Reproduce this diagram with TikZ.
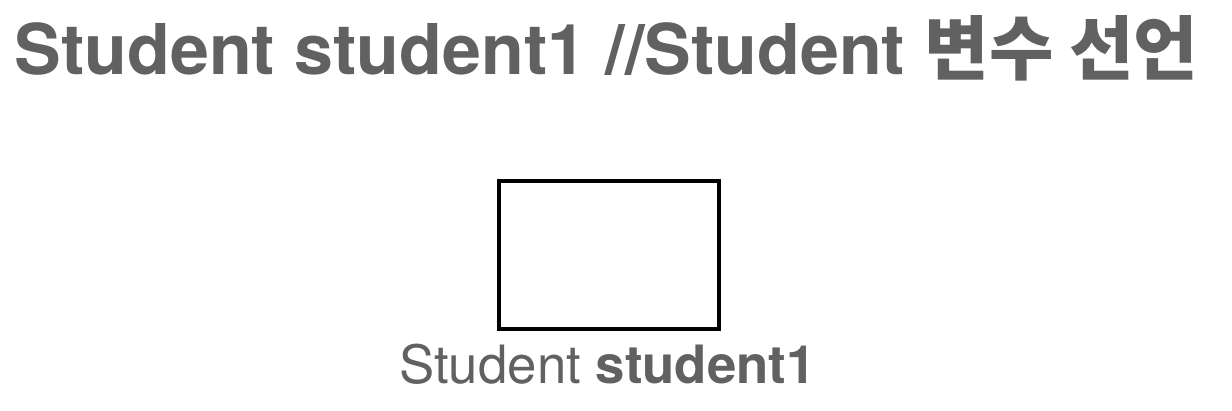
\documentclass[tikz,border=0pt]{standalone}
\usepackage{fontspec}
\setmainfont{TeX Gyre Heros}
\newfontfamily\krfont{Noto Sans CJK KR}
\definecolor{txtgray}{HTML}{616161}
\begin{document}
\begin{tikzpicture}[x=1pt,y=-1pt,
  titletext/.style={inner sep=0pt,anchor=base,text=txtgray,font=\fontsize{70}{80}\selectfont\bfseries},
  labeltext/.style={inner sep=0pt,anchor=base,text=txtgray,font=\fontsize{52.8}{60}\selectfont},
  varbox/.style={draw=black,line width=4pt,minimum width=220pt,minimum height=148pt,inner sep=0pt}]
\useasboundingbox (0,0) rectangle (1232,410);
\node[titletext] (title) at (606.5,74) {Student student1 //Student {\krfont\bfseries 변수 선언}};
\node[varbox] (box) at (609,255) {};
\node[labeltext] (label) at (607.5,383) {Student \textbf{student1}};
\end{tikzpicture}
\end{document}
